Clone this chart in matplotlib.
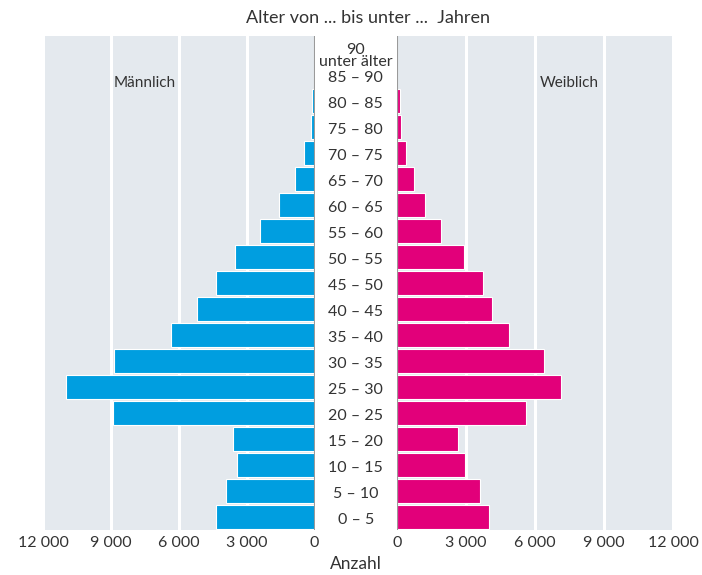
import matplotlib
matplotlib.use("Agg")
import matplotlib.pyplot as plt
import numpy as np

categories = ["0 – 5", "5 – 10", "10 – 15", "15 – 20", "20 – 25", "25 – 30",
              "30 – 35", "35 – 40", "40 – 45", "45 – 50", "50 – 55", "55 – 60",
              "60 – 65", "65 – 70", "70 – 75", "75 – 80", "80 – 85", "85 – 90",
              "90\nunter älter"]
male = [4350, 3930, 3420, 3590, 8890, 10980, 8860, 6330, 5210, 4350, 3530,
        2400, 1560, 860, 480, 150, 100, 30, 5]
female = [4000, 3610, 2960, 2650, 5630, 7120, 6390, 4880, 4140, 3760, 2910,
          1900, 1230, 720, 390, 160, 140, 20, 5]
ticks = [0, 3000, 6000, 9000, 12000]
tick_labels = ["0", "3 000", "6 000", "9 000", "12 000"]

plt.rcParams['font.family'] = ['Lato', 'DejaVu Sans']
BG = "#e4e9ee"
BLUE = "#009ee0"
PINK = "#e2007a"
TXT = "#333333"
W, H = 702, 575
fig = plt.figure(figsize=(W / 100, H / 100), dpi=100)

def rect(x0, x1, ytop, ybot):
    return [x0 / W, 1 - ybot / H, (x1 - x0) / W, (ybot - ytop) / H]

axL = fig.add_axes(rect(43, 314.5, 36, 530))
axR = fig.add_axes(rect(397, 673, 36, 530))
axM = fig.add_axes(rect(314.5, 397, 36, 530))

y = np.arange(len(categories))
for ax, vals, col in [(axL, male, BLUE), (axR, female, PINK)]:
    ax.set_facecolor(BG)
    ax.set_xlim(0, 12000)
    ax.set_ylim(-0.5, 18.5)
    for t in ticks[1:]:
        ax.axvline(t, color="white", lw=2.2, zorder=1)
    ax.barh(y, vals, height=0.9, color=col, edgecolor="white", linewidth=0.8, zorder=2)
    ax.axvline(0, color="#9a9a9a", lw=1.5, zorder=3)
    ax.set_yticks([])
    ax.set_xticks(ticks)
    ax.set_xticklabels(tick_labels, fontsize=11.5, color=TXT)
    ax.tick_params(axis="x", length=0, pad=4)
    for s in ax.spines.values():
        s.set_visible(False)
axL.invert_xaxis()

axM.set_xlim(0, 1)
axM.set_ylim(-0.5, 18.5)
axM.axis("off")
for i, lab in enumerate(categories):
    yy = i - 0.12 if i < 18 else i - 0.28
    axM.text(0.5, yy, lab, ha="center", va="center", fontsize=11.5,
             color=TXT, linespacing=0.8)

axL.text(7500, 16.7, "Männlich", ha="center", va="center", fontsize=11, color=TXT)
axR.text(7500, 16.7, "Weiblich", ha="center", va="center", fontsize=11, color=TXT)

fig.text(368 / W, 1 - 18 / H, "Alter von ... bis unter ...  Jahren", ha="center",
         va="center", fontsize=13, color=TXT)
fig.text(356 / W, 1 - 564 / H, "Anzahl", ha="center", va="center",
         fontsize=12.5, color=TXT)

fig.savefig("out.png", dpi=100, facecolor="white")
